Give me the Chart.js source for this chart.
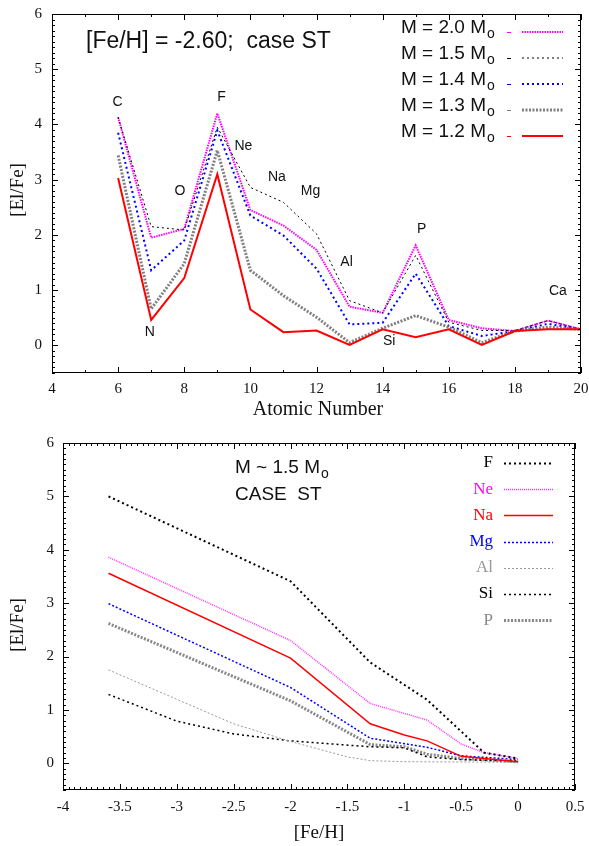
<!DOCTYPE html>
<html>
<head>
<meta charset="utf-8">
<script src="https://cdn.jsdelivr.net/npm/chart.js@4.4.1/dist/chart.umd.min.js"></script>
<style>
  html, body { margin: 0; padding: 0; background: #fff; }
  #wrap { position: relative; width: 589px; height: 846px; }
  canvas { position: absolute; left: 0; }
</style>
</head>
<body>
<div id="wrap">
  <canvas id="chart-z" width="589" height="423" style="top:0"></canvas>
  <canvas id="chart-feh" width="589" height="423" style="top:423px"></canvas>
</div>
<script>
// ---- panel 1: [El/Fe] vs atomic number at [Fe/H] = -2.60 ----
var atomicNumbers = [6, 7, 8, 9, 10, 11, 12, 13, 14, 15, 16, 17, 18, 19, 20];
var elFeM20 = [4.13, 1.95, 2.11, 4.20, 2.45, 2.17, 1.73, 0.70, 0.59, 1.81, 0.46, 0.31, 0.26, 0.45, 0.29];
var elFeM15 = [4.13, 2.15, 2.09, 3.95, 2.86, 2.59, 2.02, 0.81, 0.59, 1.63, 0.42, 0.27, 0.27, 0.45, 0.29];
var elFeM14 = [3.85, 1.36, 1.90, 3.89, 2.35, 1.99, 1.39, 0.38, 0.41, 1.30, 0.35, 0.17, 0.26, 0.39, 0.29];
var elFeM13 = [3.44, 0.66, 1.48, 3.53, 1.36, 0.90, 0.51, 0.05, 0.31, 0.54, 0.33, 0.05, 0.26, 0.33, 0.29];
var elFeM12 = [3.03, 0.46, 1.22, 3.10, 0.65, 0.24, 0.27, 0.01, 0.29, 0.15, 0.29, 0.01, 0.26, 0.29, 0.29];
var massLabels = ['2.0', '1.5', '1.4', '1.3', '1.2'];

var elementNames = ['C', 'N', 'O', 'F', 'Ne', 'Na', 'Mg', 'Al', 'Si', 'P', 'Ca'];
var elementX = [5.98, 6.96, 7.87, 9.13, 9.79, 10.8, 11.82, 12.91, 14.2, 15.18, 19.3];
var elementY = [4.40, 0.24, 2.80, 4.49, 3.60, 3.04, 2.80, 1.51, 0.07, 2.11, 0.99];

var zTicks = [4, 6, 8, 10, 12, 14, 16, 18, 20];
var elFeTicks = [0, 1, 2, 3, 4, 5, 6];

// ---- panel 2: [El/Fe] vs [Fe/H] for M ~ 1.5 Mo ----
var feh = [-3.6, -3.0, -2.5, -2.0, -1.5, -1.3, -1.0, -0.8, -0.5, -0.3, 0.0];
var elF  = [5.00, null, null, 3.41, null, 1.89, null, 1.19, null, 0.20, 0.09];
var elNe = [3.86, null, null, 2.30, null, 1.12, null, 0.81, 0.36, 0.20, 0.09];
var elNa = [3.56, null, null, 1.97, null, 0.74, 0.53, 0.42, 0.13, null, 0.03];
var elMg = [2.99, null, null, 1.42, null, 0.47, null, 0.30, 0.14, null, 0.07];
var elAl = [1.75, null, 0.74, 0.41, 0.12, 0.05, 0.03, null, null, null, 0.02];
var elSi = [1.29, 0.79, 0.55, 0.42, null, 0.31, 0.29, 0.12, 0.07, null, 0.04];
var elP  = [2.62, null, null, 1.17, null, 0.35, 0.31, 0.17, 0.09, null, 0.03];
var fehElements = ['F', 'Ne', 'Na', 'Mg', 'Al', 'Si', 'P'];

var fehTicks = [-4, -3.5, -3, -2.5, -2, -1.5, -1, -0.5, 0, 0.5];

var SANS = '"Liberation Sans", Arial, sans-serif';
var SERIF = '"Liberation Serif", "Times New Roman", serif';

function pairs(xs, ys) {
  var out = [];
  for (var i = 0; i < xs.length; i++) {
    if (ys[i] !== null) out.push({ x: xs[i], y: ys[i] });
  }
  return out;
}

// gnuplot style frame: border plus inward ticks on all four sides
var frameTicks = {
  id: 'frameTicks',
  afterDatasetsDraw: function(chart, args, opts) {
    var ctx = chart.ctx, a = chart.chartArea;
    var xs = chart.scales.x, ys = chart.scales.y;
    ctx.save();
    ctx.strokeStyle = '#000';
    ctx.lineWidth = 1;
    ctx.strokeRect(Math.round(a.left) + 0.5, Math.round(a.top) + 0.5,
      Math.round(a.right - a.left) - 1, Math.round(a.bottom - a.top) - 1);
    ctx.beginPath();
    var i, v, p;
    for (i = 0; ; i++) {
      v = xs.min + i * opts.xMinor;
      if (v > xs.max + 1e-9) break;
      var major = Math.abs(v / opts.xMajor - Math.round(v / opts.xMajor)) < 1e-6;
      var len = major ? 6 : 3;
      p = Math.round(xs.getPixelForValue(v)) + 0.5;
      ctx.moveTo(p, a.bottom); ctx.lineTo(p, a.bottom - len);
      ctx.moveTo(p, a.top); ctx.lineTo(p, a.top + len);
    }
    for (i = 0; ; i++) {
      v = ys.min + i * opts.yMinor;
      if (v > ys.max + 1e-9) break;
      var majorY = Math.abs(v / opts.yMajor - Math.round(v / opts.yMajor)) < 1e-6;
      var lenY = majorY ? 6 : 3;
      p = Math.round(ys.getPixelForValue(v)) + 0.5;
      ctx.moveTo(a.left, p); ctx.lineTo(a.left + lenY, p);
      ctx.moveTo(a.right, p); ctx.lineTo(a.right - lenY, p);
    }
    ctx.stroke();
    ctx.restore();
  }
};

function axisOpts(min, max, ticks, pad, fitSize, horizontal) {
  return {
    type: 'linear',
    min: min,
    max: max,
    grid: { display: false, drawTicks: false },
    border: { display: false },
    ticks: {
      font: { family: SERIF, size: 15 },
      color: '#111',
      padding: pad,
      autoSkip: false,
      maxRotation: 0,
      callback: function(value) { return String(value); }
    },
    afterBuildTicks: function(s) {
      s.ticks = ticks.map(function(t) { return { value: t }; });
    },
    afterFit: function(s) {
      if (horizontal) { s.height = fitSize; s.paddingLeft = 0; s.paddingRight = 0; }
      else { s.width = fitSize; s.paddingTop = 0; s.paddingBottom = 0; }
    }
  };
}

// ---------------- upper panel ----------------
var topStyles = [
  { color: '#ff00ff', width: 2, dash: [1.5, 1] },
  { color: '#000000', width: 1, dash: [2, 3] },
  { color: '#0000ff', width: 2, dash: [2, 3] },
  { color: '#808080', width: 3, dash: [2, 1.5] },
  { color: '#ff0000', width: 2, dash: [] }
];
var topSeries = [elFeM20, elFeM15, elFeM14, elFeM13, elFeM12];

var topLabels = {
  id: 'topLabels',
  afterDraw: function(chart) {
    var ctx = chart.ctx, xs = chart.scales.x, ys = chart.scales.y;
    ctx.save();
    ctx.fillStyle = '#111';
    ctx.textBaseline = 'middle';

    ctx.font = '23px ' + SANS;
    ctx.textAlign = 'left';
    ctx.fillText('[Fe/H] = -2.60;  case ST', 86, 42);

    // element names beside the curves
    ctx.font = '14px ' + SANS;
    ctx.textAlign = 'center';
    elementNames.forEach(function(n, i) {
      ctx.fillText(n, xs.getPixelForValue(elementX[i]), ys.getPixelForValue(elementY[i]));
    });

    // legend
    massLabels.forEach(function(m, i) {
      var y = 32 + i * 26;
      var st = topStyles[i];
      ctx.fillStyle = '#111';
      ctx.font = '19px ' + SANS;
      ctx.textAlign = 'right';
      ctx.fillText('M = ' + m + ' M', 486, y - 4);
      ctx.font = '14px ' + SANS;
      ctx.textAlign = 'left';
      ctx.fillText('o', 487, y + 2);
      ctx.strokeStyle = st.color;
      ctx.lineWidth = 1;
      ctx.setLineDash([]);
      ctx.beginPath();
      ctx.moveTo(507, y + 0.5); ctx.lineTo(511, y + 0.5);
      ctx.stroke();
      ctx.lineWidth = st.width;
      ctx.setLineDash(st.dash);
      ctx.beginPath();
      ctx.moveTo(522, y); ctx.lineTo(563, y);
      ctx.stroke();
    });
    ctx.setLineDash([]);

    // axis titles
    ctx.fillStyle = '#111';
    ctx.font = '20px ' + SERIF;
    ctx.textAlign = 'center';
    ctx.fillText('Atomic Number', 318, 410);
    ctx.font = '19px ' + SERIF;
    ctx.translate(18, 190);
    ctx.rotate(-Math.PI / 2);
    ctx.fillText('[El/Fe]', 0, 0);
    ctx.restore();
  }
};

new Chart(document.getElementById('chart-z'), {
  type: 'line',
  data: {
    datasets: topSeries.map(function(vals, i) {
      var st = topStyles[i];
      return {
        label: 'M = ' + massLabels[i] + ' Mo',
        data: pairs(atomicNumbers, vals),
        borderColor: st.color,
        borderWidth: st.width,
        borderDash: st.dash,
        pointRadius: 0,
        fill: false,
        tension: 0
      };
    }).reverse()
  },
  options: {
    responsive: false,
    animation: false,
    devicePixelRatio: 1,
    layout: { padding: { left: 0, right: 8, top: 14, bottom: 0 } },
    plugins: {
      legend: { display: false },
      tooltip: { enabled: false },
      frameTicks: { xMajor: 2, xMinor: 1, yMajor: 1, yMinor: 0.1 }
    },
    scales: {
      x: axisOpts(4, 20, zTicks, 7, 50, true),
      y: axisOpts(-0.5, 6, elFeTicks, 10, 52, false)
    }
  },
  plugins: [frameTicks, topLabels]
});

// ---------------- lower panel ----------------
var botStyles = [
  { color: '#000000', width: 2, dash: [2, 3], text: '#000000' },
  { color: '#ff33ff', width: 1.5, dash: [1, 1], text: '#ff00ff' },
  { color: '#ff0000', width: 1.5, dash: [], text: '#ff0000' },
  { color: '#0000ff', width: 1.5, dash: [2, 2], text: '#0000ff' },
  { color: '#999999', width: 1, dash: [2, 2], text: '#999999' },
  { color: '#000000', width: 1.5, dash: [2, 3], text: '#000000' },
  { color: '#888888', width: 3, dash: [2, 1.5], text: '#888888' }
];
var botSeries = [elF, elNe, elNa, elMg, elAl, elSi, elP];

var botLabels = {
  id: 'botLabels',
  afterDraw: function(chart) {
    var ctx = chart.ctx;
    ctx.save();
    ctx.textBaseline = 'middle';
    ctx.fillStyle = '#111';
    ctx.font = '19px ' + SANS;
    ctx.textAlign = 'left';
    ctx.fillText('M ~ 1.5 M', 235, 45);
    var w = ctx.measureText('M ~ 1.5 M').width;
    ctx.font = '14px ' + SANS;
    ctx.fillText('o', 236 + w, 51);
    ctx.font = '19px ' + SANS;
    ctx.fillText('CASE  ST', 235, 72);

    fehElements.forEach(function(n, i) {
      var y = 40 + i * 26.2;
      var st = botStyles[i];
      ctx.fillStyle = st.text;
      ctx.font = '17px ' + SERIF;
      ctx.textAlign = 'right';
      ctx.fillText(n, 493, y);
      ctx.strokeStyle = st.color;
      ctx.lineWidth = st.width;
      ctx.setLineDash(st.dash);
      ctx.beginPath();
      ctx.moveTo(504, Math.round(y) + 0.5); ctx.lineTo(553, Math.round(y) + 0.5);
      ctx.stroke();
    });
    ctx.setLineDash([]);

    ctx.fillStyle = '#111';
    ctx.font = '19px ' + SERIF;
    ctx.textAlign = 'center';
    ctx.fillText('[Fe/H]', 319, 410);
    ctx.translate(18, 202);
    ctx.rotate(-Math.PI / 2);
    ctx.fillText('[El/Fe]', 0, 0);
    ctx.restore();
  }
};

new Chart(document.getElementById('chart-feh'), {
  type: 'line',
  data: {
    datasets: botSeries.map(function(vals, i) {
      var st = botStyles[i];
      return {
        label: fehElements[i],
        data: pairs(feh, vals),
        borderColor: st.color,
        borderWidth: st.width,
        borderDash: st.dash,
        pointRadius: 0,
        fill: false,
        tension: 0
      };
    })
  },
  options: {
    responsive: false,
    animation: false,
    devicePixelRatio: 1,
    layout: { padding: { left: 0, right: 14, top: 20, bottom: 0 } },
    plugins: {
      legend: { display: false },
      tooltip: { enabled: false },
      frameTicks: { xMajor: 0.5, xMinor: 0.05, yMajor: 1, yMinor: 0.1 }
    },
    scales: {
      x: axisOpts(-4, 0.5, fehTicks, 8, 56, true),
      y: axisOpts(-0.5, 6, elFeTicks, 9, 63, false)
    }
  },
  plugins: [frameTicks, botLabels]
});
</script>
</body>
</html>
